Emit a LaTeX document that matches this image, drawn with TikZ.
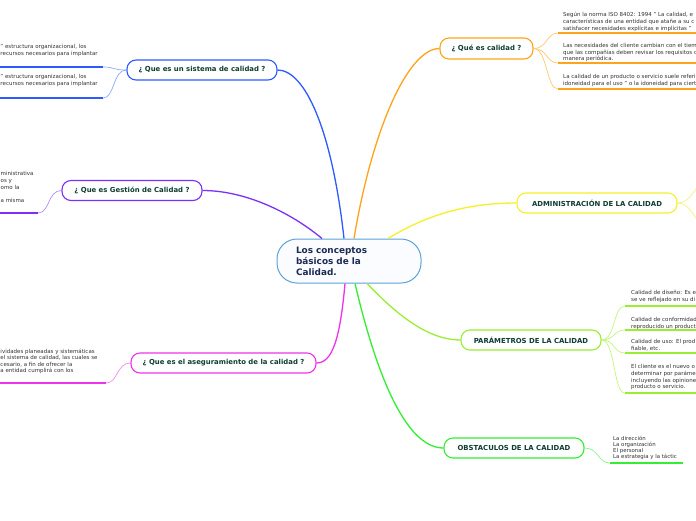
\documentclass[tikz,border=0pt]{standalone}
\usepackage{fontspec}
\setmainfont{DejaVu Sans}
\definecolor{cblue}{HTML}{5DA2D8}
\definecolor{cfill}{HTML}{FAFCFF}
\definecolor{ctext}{HTML}{1D2B53}
\definecolor{ttext}{HTML}{0E3D33}
\definecolor{stext}{HTML}{333333}
\definecolor{bblue}{HTML}{2E5BFF}
\definecolor{bbluel}{HTML}{8FA8FF}
\definecolor{borange}{HTML}{FFA31A}
\definecolor{borangel}{HTML}{FFC870}
\definecolor{byellow}{HTML}{F5F02A}
\definecolor{byellowl}{HTML}{F7F27A}
\definecolor{bpurple}{HTML}{7B2FF7}
\definecolor{bpurplel}{HTML}{B38CFA}
\definecolor{bmag}{HTML}{EE33EE}
\definecolor{bmagl}{HTML}{F58CF5}
\definecolor{blgreen}{HTML}{99EE33}
\definecolor{blgreenl}{HTML}{C4F57F}
\definecolor{bgreen}{HTML}{33EE33}
\definecolor{bgreenl}{HTML}{8EF58E}
\begin{document}
\begin{tikzpicture}[x=1pt,y=-1pt,
  topic/.style={draw, fill=white, rounded corners=9pt, line width=1.1pt, inner sep=0pt,
    minimum height=20pt, text=ttext, font=\fontsize{6.9}{8}\selectfont\bfseries},
  subtext/.style={anchor=north west, inner sep=0pt, align=left, text=stext,
    font=\fontsize{5.5}{6.6}\selectfont},
  branch/.style={line width=1.3pt},
  twig/.style={line width=0.7pt},
  uline/.style={line width=1.5pt}]
\useasboundingbox (0,0) rectangle (696,520);
\fill[white] (0,0) rectangle (696,520);

% central node
\node[draw=cblue, fill=cfill, line width=1pt, rounded corners=20pt, minimum width=144pt,
  minimum height=44pt, inner xsep=19pt, inner ysep=0pt, text width=106pt, align=left,
  text=ctext, font=\fontsize{8.9}{11}\selectfont\bfseries] (c) at (349,261)
  {Los conceptos\\básicos de la\\Calidad.};

% topic nodes
\node[topic, draw=borange, minimum width=93pt, minimum height=21pt] (qcal) at (486.5,48.5) {¿ Qué es calidad ?};
\node[topic, draw=byellow, minimum width=160pt] (admin) at (597,203) {ADMINISTRACIÓN DE LA CALIDAD};
\node[topic, draw=blgreen, minimum width=140pt] (param) at (531,340) {PARÁMETROS DE LA CALIDAD};
\node[topic, draw=bgreen, minimum width=140pt] (obst) at (514,448) {OBSTACULOS DE LA CALIDAD};
\node[topic, draw=bblue, minimum width=150pt] (sist) at (202,70) {¿ Que es un sistema de calidad ?};
\node[topic, draw=bpurple, minimum width=140pt] (gest) at (132,190.5) {¿ Que es Gestión de Calidad ?};
\node[topic, draw=bmag, minimum width=185pt] (aseg) at (223.5,363) {¿ Que es el aseguramiento de la calidad ?};

% main branches
\draw[branch, bblue] ([xshift=-5pt]c.north) .. controls (332,130) and (305,70) .. (sist.east);
\draw[branch, borange] ([xshift=5pt]c.north) .. controls (372,130) and (408,48.5) .. (qcal.west);
\draw[branch, bpurple] ([xshift=-27pt]c.north) .. controls (290,212) and (245,190.5) .. (gest.east);
\draw[branch, byellow] ([xshift=39pt]c.north) .. controls (430,213) and (470,203) .. (admin.west);
\draw[branch, bmag] ([xshift=-4pt]c.south) .. controls (340,340) and (332,363) .. (aseg.east);
\draw[branch, blgreen] ([xshift=18pt]c.south) .. controls (400,318) and (430,340) .. (param.west);
\draw[branch, bgreen] ([xshift=6pt]c.south) .. controls (380,390) and (410,448) .. (obst.west);

% orange sub items
\coordinate (q1) at (558,33);
\coordinate (q2) at (558,63);
\coordinate (q3) at (558,89);
\coordinate (qe1) at (700,33);
\coordinate (qe2) at (700,63);
\coordinate (qe3) at (700,89);
\foreach \p/\e in {q1/qe1,q2/qe2,q3/qe3}{
  \draw[twig, borangel] (qcal.east) .. controls +(14,0) and +(-12,0) .. (\p);
  \draw[uline, borange] (\p) -- (\e);
}
\node[subtext] (q1t) at (563,12.3) {Según la norma ISO 8402: 1994 " La calidad, e\\características de una entidad que atañe a su c\\satisfacer necesidades explícitas e implícitas "};
\node[subtext] (q2t) at (563,43.3) {Las necesidades del cliente cambian con el tiem\\que las compañías deben revisar los requisitos d\\manera periódica.};
\node[subtext] (q3t) at (563,74.3) {La calidad de un producto o servicio suele referi\\idoneidad para el uso " o la idoneidad para ciert};

% yellow sub items
\coordinate (a1) at (700,185);
\coordinate (a2) at (700,222);
\draw[twig, byellowl] (admin.east) .. controls +(12,0) and +(-6,4) .. (a1);
\draw[twig, byellowl] (admin.east) .. controls +(12,0) and +(-6,-4) .. (a2);

% light green sub items
\coordinate (p1) at (625,306);
\coordinate (p2) at (625,330);
\coordinate (p3) at (625,353);
\coordinate (p4) at (625,393);
\foreach \p in {p1,p2,p3,p4}{
  \draw[twig, blgreenl] (param.east) .. controls +(14,0) and +(-12,0) .. (\p);
  \draw[uline, blgreen] (\p) -- ++(80,0);
}
\node[subtext] (p1t) at (631,290.5) {Calidad de diseño: Es e\\se ve reflejado en su di};
\node[subtext] (p2t) at (631,317.5) {Calidad de conformidad\\reproducido un product};
\node[subtext] (p3t) at (631,339.5) {Calidad de uso: El prod\\fiable, etc.};
\node[subtext] (p4t) at (631,364.5) {El cliente es el nuevo o\\determinar por paráme\\incluyendo las opinione\\producto o servicio.};

% green sub item
\coordinate (o1) at (610,463);
\coordinate (oe1) at (683,463);
\draw[twig, bgreenl] (obst.east) .. controls +(14,0) and +(-12,0) .. (o1);
\draw[uline, bgreen] (o1) -- (oe1);
\node[subtext, font=\fontsize{5.4}{6.3}\selectfont] (o1t) at (613,435.5) {La dirección\\La organización\\El personal\\La estrategia y la táctic};

% blue sub items
\coordinate (b1) at (103,67);
\coordinate (b2) at (103,98);
\coordinate (be1) at (-5,67);
\coordinate (be2) at (-5,98);
\draw[twig, bbluel] (sist.west) .. controls +(-14,0) and +(12,0) .. (b1);
\draw[twig, bbluel] (sist.west) .. controls +(-14,0) and +(12,0) .. (b2);
\draw[uline, bblue] (b1) -- (be1);
\draw[uline, bblue] (b2) -- (be2);
\node[subtext] (b1t) at (0.3,44.5) {" estructura organizacional, los\\recursos necesarios para implantar};
\node[subtext] (b2t) at (0.3,74.5) {" estructura organizacional, los\\recursos necesarios para implantar};

% purple sub item
\coordinate (g1) at (38,213);
\coordinate (ge1) at (-5,213);
\draw[twig, bpurplel] (gest.west) .. controls +(-14,0) and +(12,0) .. (g1);
\draw[uline, bpurple] (g1) -- (ge1);
\node[subtext] (g1t) at (0.5,171.5) {ministrativa\\os y\\omo la\\\mbox{}\\a misma};

% magenta sub item
\coordinate (m1) at (106,383);
\coordinate (me1) at (-5,383);
\draw[twig, bmagl] (aseg.west) .. controls +(-14,0) and +(12,0) .. (m1);
\draw[uline, bmag] (m1) -- (me1);
\node[subtext] (m1t) at (0.3,348.5) {ividades planeadas y sistemáticas\\el sistema de calidad, las cuales se\\cesario, a fin de ofrecer la\\a entidad cumplirá con los};
\end{tikzpicture}
\end{document}
